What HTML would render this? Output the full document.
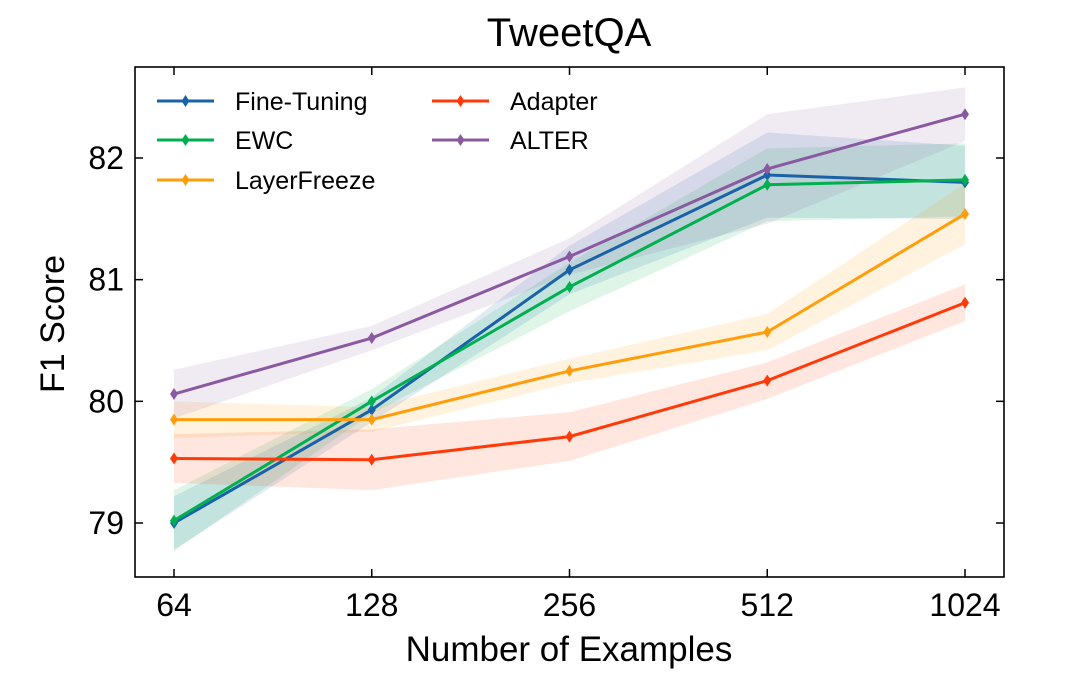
<!DOCTYPE html>
<html><head><meta charset="utf-8">
<style>
body{margin:0;background:#fff;}
svg text{font-family:"Liberation Sans",Arial,sans-serif;fill:#000;}
</style></head>
<body>
<svg id="chart" width="1080" height="681" xmlns="http://www.w3.org/2000/svg">
<text x="569" y="46" font-size="40" text-anchor="middle">TweetQA</text>
<g id="bands"></g>
<g id="lines"></g>
<rect x="135" y="67" width="869" height="510" fill="none" stroke="#000" stroke-width="1.6"/>
<g id="axes"></g>
<text x="569" y="661" font-size="35" text-anchor="middle">Number of Examples</text>
<text transform="translate(64,324) rotate(-90)" font-size="34" text-anchor="middle">F1 Score</text>
<g id="legend"></g>
</svg>
<script>
const categories = ["64","128","256","512","1024"];
const yTicks = [79,80,81,82];
const seriesNames = ["Fine-Tuning","EWC","LayerFreeze","Adapter","ALTER"];
const seriesColors = ["#1a62a8","#00b050","#ff9d0a","#ff3a0a","#8a5aa0"];
const fineTuning = [79.0,79.93,81.08,81.86,81.80];
const ewc = [79.02,80.0,80.94,81.78,81.82];
const layerFreeze = [79.85,79.85,80.25,80.57,81.54];
const adapter = [79.53,79.52,79.71,80.17,80.81];
const alter = [80.06,80.52,81.19,81.91,82.36];
const fineTuningErr = [0.22,0.1,0.2,0.35,0.3];
const ewcErr = [0.25,0.1,0.2,0.3,0.3];
const layerFreezeErr = [0.15,0.1,0.1,0.15,0.25];
const adapterErr = [0.2,0.25,0.2,0.15,0.15];
const alterErr = [0.2,0.1,0.15,0.45,0.22];

const NS="http://www.w3.org/2000/svg";
const xScale=i=>174+i*197.75;
const yScale=v=>523-(v-79)*121.67;
function mk(tag,attrs,parent){const e=document.createElementNS(NS,tag);for(const k in attrs)e.setAttribute(k,attrs[k]);parent.appendChild(e);return e;}
const bandsG=document.getElementById('bands'),linesG=document.getElementById('lines'),axesG=document.getElementById('axes'),legG=document.getElementById('legend');
const allSeries=[fineTuning,ewc,layerFreeze,adapter,alter];
const allErr=[fineTuningErr,ewcErr,layerFreezeErr,adapterErr,alterErr];
allSeries.forEach((s,k)=>{
  const up=s.map((v,i)=>xScale(i)+','+yScale(v+allErr[k][i]));
  const dn=s.map((v,i)=>xScale(i)+','+yScale(v-allErr[k][i])).reverse();
  const b=mk('polygon',{points:up.concat(dn).join(' '),fill:seriesColors[k],'fill-opacity':0.13},bandsG);
  
  
});
allSeries.forEach((s,k)=>{
  const l=mk('polyline',{points:s.map((v,i)=>xScale(i)+','+yScale(v)).join(' '),fill:'none',stroke:seriesColors[k],'stroke-width':3},linesG);
  
  
  s.forEach((v,i)=>{
    const x=xScale(i),y=yScale(v);
    const m=mk('polygon',{points:`${x},${y-6} ${x+4},${y} ${x},${y+6} ${x-4},${y}`,fill:seriesColors[k]},linesG);
    
    
  });
});
categories.forEach((c,i)=>{
  const x=xScale(i);
  mk('line',{x1:x,x2:x,y1:577,y2:569,stroke:'#000','stroke-width':1.5},axesG);
  mk('line',{x1:x,x2:x,y1:67,y2:75,stroke:'#000','stroke-width':1.5},axesG);
  const t=mk('text',{x:x,y:616,'font-size':32,'text-anchor':'middle'},axesG);
  t.textContent=c;
  
  
});
yTicks.forEach(v=>{
  const y=yScale(v);
  mk('line',{x1:135,x2:143,y1:y,y2:y,stroke:'#000','stroke-width':1.5},axesG);
  mk('line',{x1:1004,x2:996,y1:y,y2:y,stroke:'#000','stroke-width':1.5},axesG);
  const t=mk('text',{x:124,y:y+11,'font-size':32,'text-anchor':'end'},axesG);
  t.textContent=v;
  
  
});
const legPos=[[157,101],[157,140],[157,180],[432,101],[432,140]];
seriesNames.forEach((n,k)=>{
  const [x,y]=legPos[k];
  const g=mk('g',{},legG);
  
  
  mk('line',{x1:x,x2:x+57,y1:y,y2:y,stroke:seriesColors[k],'stroke-width':3},g);
  const cx=x+28.5;
  mk('polygon',{points:`${cx},${y-6} ${cx+4},${y} ${cx},${y+6} ${cx-4},${y}`,fill:seriesColors[k]},g);
  const t=mk('text',{x:x+78,y:y+9,'font-size':25},g);
  t.textContent=n;
});
</script>
</body></html>
